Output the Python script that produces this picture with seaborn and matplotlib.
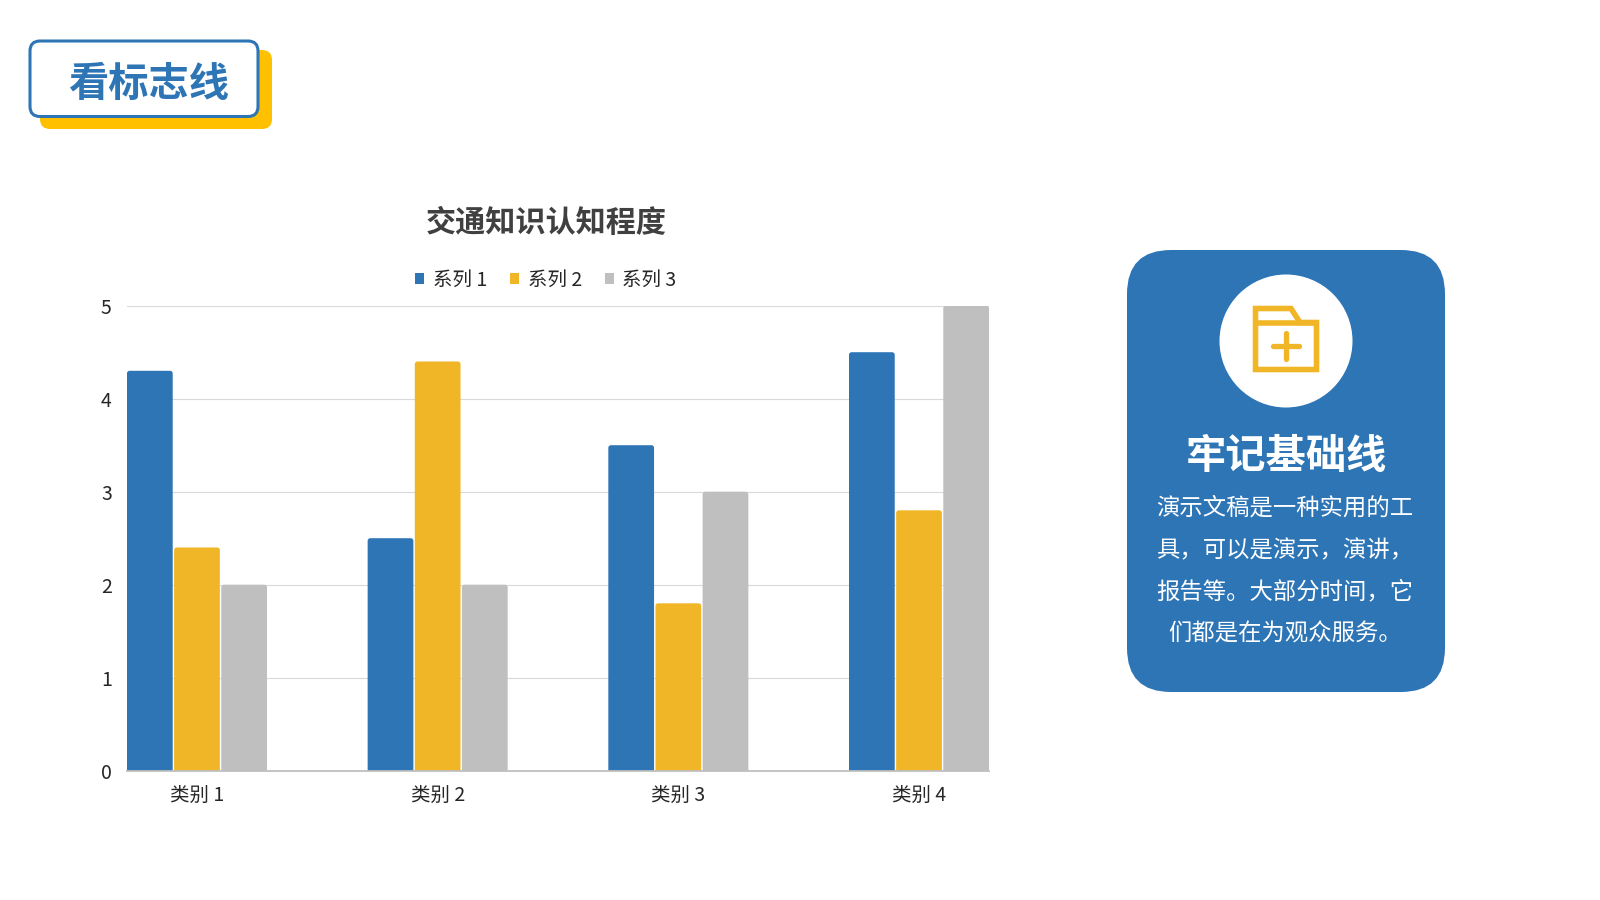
import numpy as np
import pandas as pd
import matplotlib
matplotlib.use("Agg")
import matplotlib.pyplot as plt
import seaborn as sns
from matplotlib.patches import FancyBboxPatch, Circle, Polygon

# chart values
categories = ["类别 1", "类别 2", "类别 3", "类别 4"]
series_names = ["系列 1", "系列 2", "系列 3"]
series_1 = [4.3, 2.5, 3.5, 4.5]
series_2 = [2.4, 4.4, 1.8, 2.8]
series_3 = [2.0, 2.0, 3.0, 5.0]
y_ticks = [0, 1, 2, 3, 4, 5]

chart_title = "交通知识认知程度"
badge_text = "看标志线"
card_title = "牢记基础线"
card_lines = ["演示文稿是一种实用的工", "具，可以是演示，演讲，", "报告等。大部分时间，它", "们都是在为观众服务。"]

BLUE = "#2E75B6"
YELLOW = "#F0B627"
GREY = "#BFBFBF"
W, H = 1600, 900

sns.set_theme(style="white")
plt.rcParams['font.family'] = ['Noto Sans CJK SC', 'DejaVu Sans']

df = pd.DataFrame({
    "category": categories * 3,
    "series": np.repeat(series_names, 4),
    "value": series_1 + series_2 + series_3,
})

fig = plt.figure(figsize=(16, 9), dpi=100, facecolor="white")

# full-figure axes in pixel coordinates for the slide decoration
bg = fig.add_axes([0, 0, 1, 1])
bg.set_xlim(0, W)
bg.set_ylim(H, 0)
bg.axis("off")


def round_box(ax, x0, y0, x1, y1, r, **kw):
    ax.add_patch(FancyBboxPatch((x0 + r, y0 + r), x1 - x0 - 2 * r, y1 - y0 - 2 * r,
                                boxstyle=f"round,pad={r},rounding_size={r}", **kw))


# badge top left
round_box(bg, 40, 50, 272, 129, 10, fc="#FFC000", ec="none")
round_box(bg, 30, 41, 258, 116.5, 10, fc="white", ec=BLUE, lw=2.2)
bg.text(149, 84, badge_text, color=BLUE, fontsize=29, fontweight="bold", ha="center", va="center")

# card on the right
round_box(bg, 1127, 250, 1445, 692, 44, fc=BLUE, ec="none")
bg.add_patch(Circle((1286, 341), 66.5, fc="white", ec="none"))
# folder icon
bg.add_patch(Polygon([(1255.5, 308.5), (1291, 308.5), (1300, 322.5), (1316.5, 322.5),
                      (1316.5, 369.5), (1255.5, 369.5)],
                     closed=True, fc="none", ec=YELLOW, lw=4, joinstyle="miter"))
bg.plot([1255.5, 1316.5], [322.5, 322.5], color=YELLOW, lw=4, solid_capstyle="butt")
bg.plot([1273, 1299], [345.5, 345.5], color=YELLOW, lw=3.8, solid_capstyle="round")
bg.plot([1286, 1286], [332.5, 358.5], color=YELLOW, lw=3.8, solid_capstyle="round")

bg.text(1286, 457, card_title, color="white", fontsize=29, fontweight="bold", ha="center", va="center")
for y, line in zip([508, 550.5, 592, 634], card_lines):
    bg.text(1285, y, line, color="white", fontsize=16.8, ha="center", va="center", fontweight="light")

bg.text(546, 223, chart_title, color="#404040", fontsize=21.7, fontweight="bold", ha="center", va="center")

# chart
ax_w, ax_h = 862, 465
ax = fig.add_axes([127 / W, 1 - 770.7 / H, ax_w / W, ax_h / H])
ax.patch.set_alpha(0)
sns.barplot(data=df, x="category", y="value", hue="series", hue_order=series_names,
            palette=[BLUE, YELLOW, GREY], width=0.5877, gap=0.03, saturation=1, ax=ax, zorder=3)

x_lim = (-0.2908, 3.2908)

# PowerPoint style: slightly rounded top corners (bottoms are cut by the axes clip)
aspect = (5 / ax_h) / ((x_lim[1] - x_lim[0]) / ax_w)
for bar in list(ax.patches):
    if bar.get_height() == 0:
        continue
    x0, w, h, c = bar.get_x(), bar.get_width(), bar.get_height(), bar.get_facecolor()
    rx = 0.011
    new = FancyBboxPatch((x0 + rx, -0.2), w - 2 * rx, h + 0.2 - rx * aspect,
                         boxstyle=f"round,pad={rx},rounding_size={rx}",
                         mutation_aspect=aspect, fc=c, ec="none", zorder=3)
    ax.add_patch(new)
    bar.set_visible(False)

ax.set_xlim(*x_lim)
ax.set_ylim(0, 5)
ax.set_yticks(y_ticks)
ax.set_xlabel("")
ax.set_ylabel("")
ax.grid(axis="y", color="#D9D9D9", lw=0.8)
ax.set_axisbelow(True)
sns.despine(ax=ax, left=True, top=True, right=True)
ax.spines["bottom"].set_color(GREY)
ax.spines["bottom"].set_linewidth(1.3)
ax.spines["bottom"].set_zorder(4)
ax.tick_params(axis="both", length=0, labelsize=14, labelcolor="#262626")
ax.tick_params(axis="y", pad=11)
ax.tick_params(axis="x", pad=10)

handles = [plt.Rectangle((0, 0), 1, 1, fc=c, ec="none") for c in [BLUE, YELLOW, GREY]]
if ax.get_legend() is not None:
    ax.get_legend().remove()
fig.legend(handles, series_names, ncol=3, loc="center", bbox_to_anchor=(546 / W, 1 - 280 / H),
           frameon=False, fontsize=14, handlelength=0.44, handleheight=0.44,
           handletextpad=0.45, columnspacing=1.2, labelcolor="#262626")

fig.savefig("out.png", dpi=100, facecolor="white")
